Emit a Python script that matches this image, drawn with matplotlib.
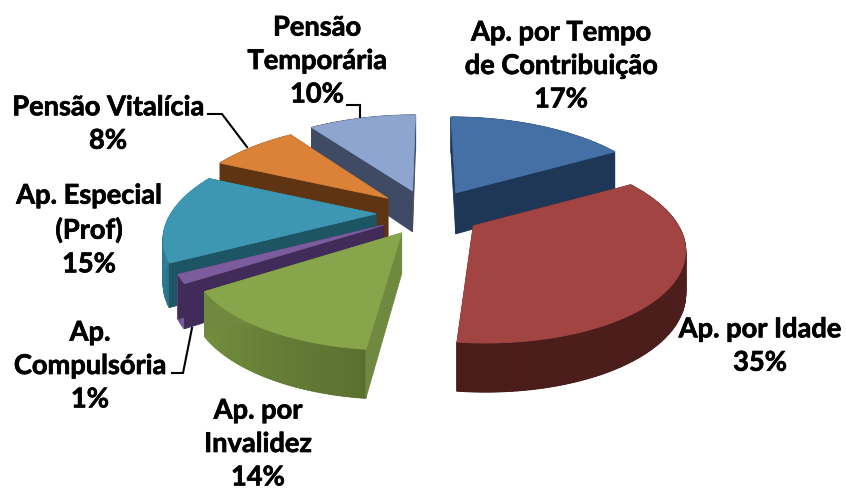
import numpy as np
import matplotlib
matplotlib.use("Agg")
import matplotlib.pyplot as plt
import matplotlib.patheffects as pe
from matplotlib.colors import to_rgb

labels = ["Ap. por Tempo\nde Contribuição", "Ap. por Idade", "Ap. por\nInvalidez",
          "Ap.\nCompulsória", "Ap. Especial\n(Prof)", "Pensão Vitalícia", "Pensão\nTemporária"]
values = [16.8, 34.9, 13.8, 1.49, 14.8, 8.1, 10.05]

top_colors = ["#4470a6", "#a24542", "#87a54b", "#7b5c9c", "#3e97b2", "#db8238", "#8ea5cf"]
radial_colors = ["#1f3757", "#4a1d1b", "#6f8a3f", "#402b59", "#1d5565", "#5f3412", "#3f4b64"]
arc_start = ["#2a4a72", "#4f201d", "#5a7030", "#7a5c9c", "#2a7389", "#8a5020", "#3f4b64"]
arc_end = ["#2a4a72", "#4a1c1a", "#74903f", "#6d5190", "#338ca6", "#a86028", "#3f4b64"]
draw_order = [0, 6, 5, 4, 3, 2, 1]

label_xy = [(561, 66), (760, 346), (258, 444), (90, 366), (89, 230), (108, 124), (317, 61)]
leaders = [([347, 360, 360], [105, 105, 117]),
           ([208, 222, 247], [114, 114, 147]),
           ([172, 183, 192], [373, 373, 328])]

CX, CY = 429, 213
RX, KY, P = 205, 92, 0.215
EXPLODE_X, EXPLODE_Y = 53, 23.3
DEPTH = 41


def depth(theta_deg):
    return DEPTH / (1 + 0.75 * P * np.cos(np.radians(theta_deg)))


def shade(c1, c2, f):
    a, b = np.array(to_rgb(c1)), np.array(to_rgb(c2))
    return tuple(a + (b - a) * f)


fig = plt.figure(figsize=(8.46, 4.90), dpi=100, facecolor="white")
ax = fig.add_axes([0, 0, 1, 1])
ax.set_xlim(0, 846)
ax.set_ylim(490, 0)
ax.axis("off")

edges = np.concatenate([[0], np.cumsum(values)]) / sum(values) * 360
z = 1
for i in draw_order:
    t0, t1 = edges[i], edges[i + 1]
    mid = (t0 + t1) / 2
    tipw = EXPLODE_X * np.sin(np.radians(mid))
    tipx = CX + tipw
    tipy = CY - EXPLODE_Y * np.cos(np.radians(mid))
    th = np.linspace(t0, t1, max(12, int(t1 - t0)))
    t = np.radians(th)
    s = 1 + P * np.cos(t)
    px = CX + (tipw + RX * np.sin(t)) / s
    py = tipy - KY * np.cos(t) / s
    d = depth(th)
    # outer wall: base polygon plus gradient bands
    ax.fill(np.r_[px, px[::-1]], np.r_[py, (py + d)[::-1]],
            color=shade(arc_start[i], arc_end[i], 0.5), lw=0.5, zorder=z)
    for k in range(len(th) - 1):
        col = shade(arc_start[i], arc_end[i], (k + 0.5) / (len(th) - 1))
        ax.fill([px[k], px[k + 1], px[k + 1], px[k]],
                [py[k], py[k + 1], py[k + 1] + d[k + 1], py[k] + d[k]],
                color=col, lw=1.0, zorder=z)
    z += 1
    # radial walls
    for j in (0, -1):
        ax.fill([tipx, px[j], px[j], tipx],
                [tipy, py[j], py[j] + d[j], tipy + DEPTH],
                color=radial_colors[i], lw=0.6, zorder=z)
    z += 1
    # top face
    ax.fill(np.r_[tipx, px], np.r_[tipy, py], color=top_colors[i], lw=0.6, zorder=z)
    z += 1

for xs, ys in leaders:
    ax.plot(xs, ys, color="black", lw=1.5, zorder=z, solid_joinstyle="miter")

for lab, val, (x, y) in zip(labels, values, label_xy):
    ax.text(x, y, f"{lab}\n{val:.0f}%", ha="center", va="center", family="Lato",
            fontweight="bold", fontsize=19.6, linespacing=1.47, color="black", zorder=z + 1,
            path_effects=[pe.withStroke(linewidth=0.5, foreground="black")])

fig.savefig("out.png", dpi=100, facecolor="white")
